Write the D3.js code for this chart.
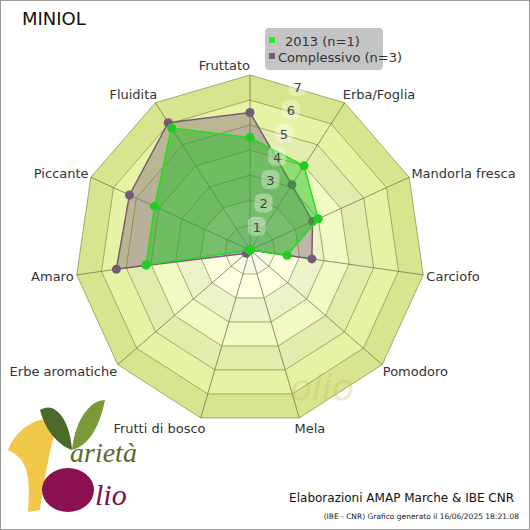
<!DOCTYPE html>
<html><head><meta charset="utf-8">
<script src="https://cdn.jsdelivr.net/npm/d3@7"></script>
<style>body{margin:0}svg{font-family:"DejaVu Sans",sans-serif}</style>
</head><body><svg id="c" width="530" height="530"></svg>
<script>
const axes = ["Fruttato","Erba/Foglia","Mandorla fresca","Carciofo","Pomodoro","Mela","Frutti di bosco","Erbe aromatiche","Amaro","Piccante","Fluidita"];
const series2013 = [4.5, 4.0, 3.0, 1.5, 0, 0, 0, 0, 4.2, 4.2, 5.8];
const seriesAll = [5.5, 3.1, 2.75, 2.5, 0, 0, 0, 0.2, 5.4, 5.3, 6.05];
const ticks = [1,2,3,4,5,6,7];

const svg = d3.select("#c");
const cx = 250, cy = 250, maxV = 7;
const r = d3.scaleLinear().domain([0, maxV]).range([0, 175]);
const ang = d3.scaleLinear().domain([0, axes.length]).range([0, 2*Math.PI]);
const pt = (i, v) => [cx + r(v)*Math.sin(ang(i)), cy - r(v)*Math.cos(ang(i))];
const poly = v => axes.map((a, i) => pt(i, v));
const line = d3.line().curve(d3.curveLinearClosed);

svg.append("rect").attr("x",0.5).attr("y",0.5).attr("width",529).attr("height",529)
  .attr("fill","#fff").attr("stroke","#999");

// background bands, outer first
const bandCol = d3.scaleLinear().domain([0, maxV]).range(["#fbfdf0", "#d6e48a"]);
for (let k = maxV; k >= 1; k--) {
  const c = d3.color(bandCol(k - 0.3));
  svg.append("path").attr("d", line(poly(k)))
    .attr("fill", k % 2 ? c : c.brighter(0.12)).attr("stroke", "#8a9a50").attr("stroke-width", 0.8);
}
for (let i = 0; i < axes.length; i++) {
  const [x, y] = pt(i, maxV);
  svg.append("line").attr("x1", cx).attr("y1", cy).attr("x2", x).attr("y2", y)
    .attr("stroke", "#6f7a50").attr("stroke-width", 0.8);
}

// watermark ghost
svg.append("text").attr("x", 290).attr("y", 400).attr("font-size", 36)
  .attr("font-style","italic").attr("fill","#c9b860").attr("opacity",0.3).text("olio");

// series
const drawSeries = (vals, fill, stroke, dot) => {
  const pts = vals.map((v, i) => pt(i, v));
  svg.append("path").attr("d", line(pts)).attr("fill", fill).attr("stroke", stroke).attr("stroke-width", 1.5);
  svg.selectAll(null).data(pts).join("circle")
    .attr("cx", d => d[0]).attr("cy", d => d[1]).attr("r", 4.5).attr("fill", dot);
};
drawSeries(seriesAll, "rgba(120,90,120,0.4)", "#7a5a7a", "#765a78");
drawSeries(series2013, "rgba(20,190,20,0.45)", "#22dd22", "#22cc22");

// tick labels along a slightly tilted line
ticks.forEach(t => {
  const x = cx + t*6.8, y = cy - t*23.3;
  svg.append("rect").attr("x", x-9).attr("y", y-10).attr("width", 18).attr("height", 19).attr("rx", 6)
    .attr("fill", "rgba(255,255,255,0.35)");
  svg.append("text").attr("x", x).attr("y", y+5).attr("text-anchor","middle")
    .attr("font-size", 13).attr("fill", "#444").text(t);
});

// axis labels
axes.forEach((a, i) => {
  const [x, y] = pt(i, maxV + 0.45);
  const s = Math.sin(ang(i)), c = Math.cos(ang(i));
  let anchor = Math.abs(s) < 0.2 ? "middle" : s > 0 ? "start" : "end";
  let dx = anchor==="start" ? -8 : anchor==="end" ? 8 : 0;
  if (i === 0) { anchor = "end"; dx = 0; }
  svg.append("text").attr("x", x + dx).attr("y", y + 5 + c)
    .attr("text-anchor", anchor).attr("font-size", 13).attr("fill", "#333").text(a);
});

svg.append("text").attr("x", 22).attr("y", 25).attr("font-size", 18).attr("fill", "#111").text("MINIOL");

// legend
const lg = svg.append("g").attr("transform", "translate(265,28)");
lg.append("rect").attr("width", 118).attr("height", 42).attr("rx", 4).attr("fill", "#c4c4c4");
[["2013 (n=1)", "#22ee22"], ["Complessivo (n=3)", "#765a78"]].forEach((d, i) => {
  lg.append("rect").attr("x", 4).attr("y", 9 + i*16).attr("width", 6).attr("height", 6).attr("fill", d[1]);
  lg.append("text").attr("x", i ? 13 : 20).attr("y", 18 + i*16).attr("font-size", 13).attr("fill", "#333").text(d[0]);
});

// footer
svg.append("text").attr("x", 514).attr("y", 502).attr("text-anchor","end").attr("font-size", 12).attr("fill","#111")
  .text("Elaborazioni AMAP Marche & IBE CNR");
svg.append("text").attr("x", 519).attr("y", 519).attr("text-anchor","end").attr("font-size", 7.5).attr("fill","#222")
  .text("(IBE - CNR) Grafico generato il 16/06/2025 18:21:08");

// logo (approximate)
const logo = svg.append("g");
logo.append("path").attr("d","M8,450 C20,420 50,415 60,420 C50,440 45,480 40,510 L28,512 C30,480 30,460 8,450Z").attr("fill","#f2c84b");
logo.append("path").attr("d","M40,410 C55,400 70,420 72,450 C58,445 45,430 40,410Z").attr("fill","#4a6a2a");
logo.append("path").attr("d","M72,450 C75,420 90,400 105,400 C100,425 90,445 72,450Z").attr("fill","#7a9a3a");
logo.append("ellipse").attr("cx",68).attr("cy",490).attr("rx",26).attr("ry",22).attr("fill","#8a1050");
logo.append("text").attr("x",70).attr("y",462).attr("font-size",28).attr("font-style","italic")
  .attr("font-family","Liberation Serif").attr("fill","#5a6a2a").text("arietà");
logo.append("text").attr("x",95).attr("y",505).attr("font-size",30).attr("font-style","italic")
  .attr("font-family","Liberation Serif").attr("fill","#7a1050").text("lio");
</script></body></html>
